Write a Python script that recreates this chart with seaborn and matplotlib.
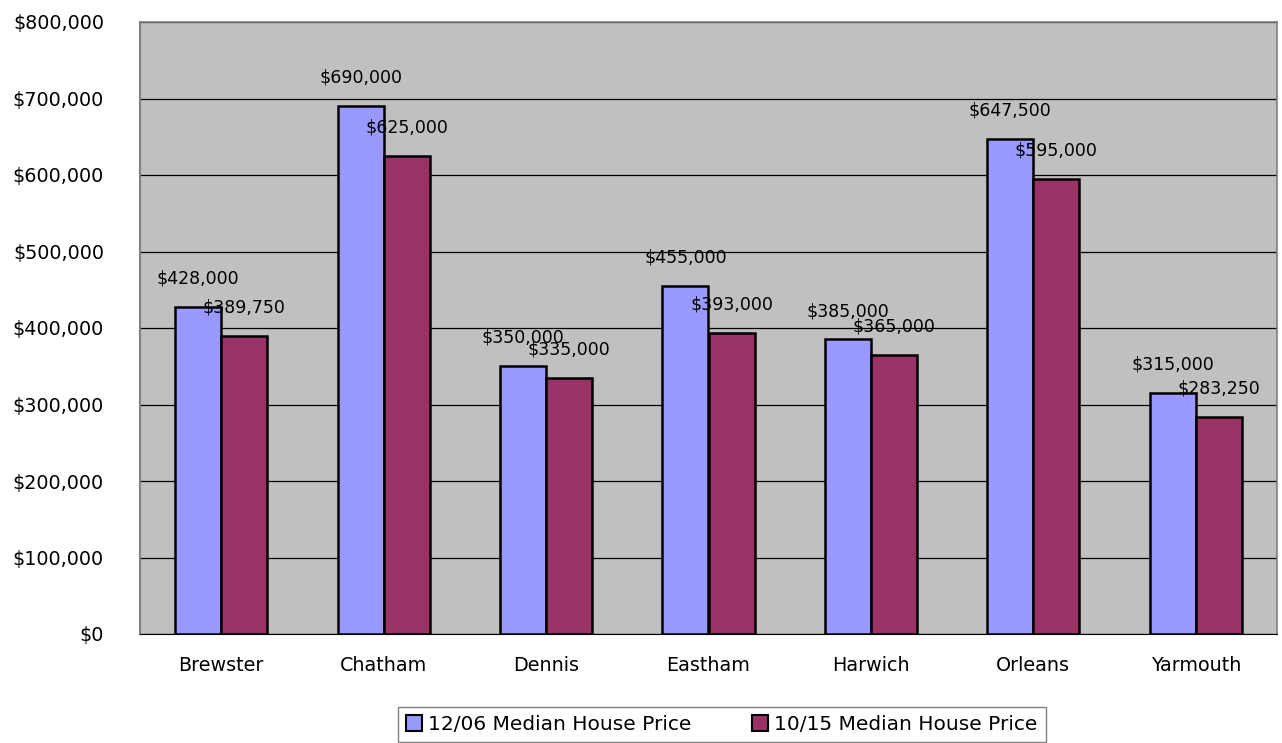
import matplotlib
matplotlib.use("Agg")
import matplotlib.pyplot as plt
import matplotlib.ticker as mticker
import seaborn as sns
import pandas as pd

towns = ["Brewster", "Chatham", "Dennis", "Eastham", "Harwich", "Orleans", "Yarmouth"]
price_1206 = [428000, 690000, 350000, 455000, 385000, 647500, 315000]
price_1015 = [389750, 625000, 335000, 393000, 365000, 595000, 283250]
series_names = ["12/06 Median House Price", "10/15 Median House Price"]
colors = ["#9999FF", "#993366"]

df = pd.DataFrame({
    "Town": towns * 2,
    "Price": price_1206 + price_1015,
    "Series": [series_names[0]] * len(towns) + [series_names[1]] * len(towns),
})

sns.set_style("white")
plt.rcParams["font.family"] = ["DejaVu Sans"]
plt.rcParams["text.color"] = "black"
plt.rcParams["xtick.color"] = "black"
plt.rcParams["ytick.color"] = "black"

fig = plt.figure(figsize=(12.82, 7.43), dpi=100)
ax = fig.add_axes([140 / 1282, 1 - 634 / 743, (1277 - 140) / 1282, (634 - 22) / 743])
ax.set_facecolor("#C0C0C0")

sns.barplot(data=df, x="Town", y="Price", hue="Series", palette=colors,
            width=0.567, edgecolor="black", linewidth=1.8, ax=ax,
            saturation=1, legend=True, zorder=3)

for cont in ax.containers:
    ax.bar_label(cont, labels=[f"${v:,.0f}" for v in cont.datavalues],
                 padding=14, fontsize=12.5, color="black", zorder=5)

ax.set_ylim(0, 800000)
ax.set_xlim(-0.5, len(towns) - 0.5)
ax.yaxis.set_major_locator(mticker.MultipleLocator(100000))
ax.yaxis.set_major_formatter(mticker.FuncFormatter(lambda v, p: f"${v:,.0f}"))
ax.yaxis.grid(True, color="black", linewidth=0.9, zorder=0)
ax.set_axisbelow(True)
ax.set_xlabel("")
ax.set_ylabel("")

# x ticks at category boundaries
ax.set_xticks([i - 0.5 for i in range(len(towns) + 1)], minor=False)
ax.set_xticklabels([])
ax.set_xticks(range(len(towns)), minor=True)
ax.set_xticklabels(towns, minor=True)
ax.tick_params(axis="x", which="major", length=8, direction="out", color="black", width=1)
ax.tick_params(axis="x", which="minor", length=0, labelsize=13.8, pad=16, labelcolor="black")
ax.tick_params(axis="y", length=8, direction="out", color="black", width=1,
               labelsize=13.8, pad=18, labelcolor="black")

ax.spines["left"].set_color("#808080")
ax.spines["left"].set_linewidth(1.5)
ax.spines["bottom"].set_color("black")
ax.spines["top"].set_color("#808080")
ax.spines["right"].set_color("#808080")
ax.spines["top"].set_linewidth(1.2)
ax.spines["right"].set_linewidth(1.2)

ax.get_legend().remove()
handles = [plt.Rectangle((0, 0), 1, 1, facecolor=c, edgecolor="black", linewidth=1.5) for c in colors]
leg = fig.legend(handles, series_names, loc="lower center", bbox_to_anchor=(722 / 1282, 0.0),
                 ncol=2, frameon=True, fancybox=False, fontsize=14.5, handlelength=0.8,
                 handleheight=0.8, handletextpad=0.3, columnspacing=3.0, borderpad=0.4,
                 borderaxespad=0.05)
leg.get_frame().set_edgecolor("#606060")
leg.get_frame().set_linewidth(1.0)
for t in leg.get_texts():
    t.set_color("black")

fig.savefig("out.png", dpi=100, facecolor="white")
